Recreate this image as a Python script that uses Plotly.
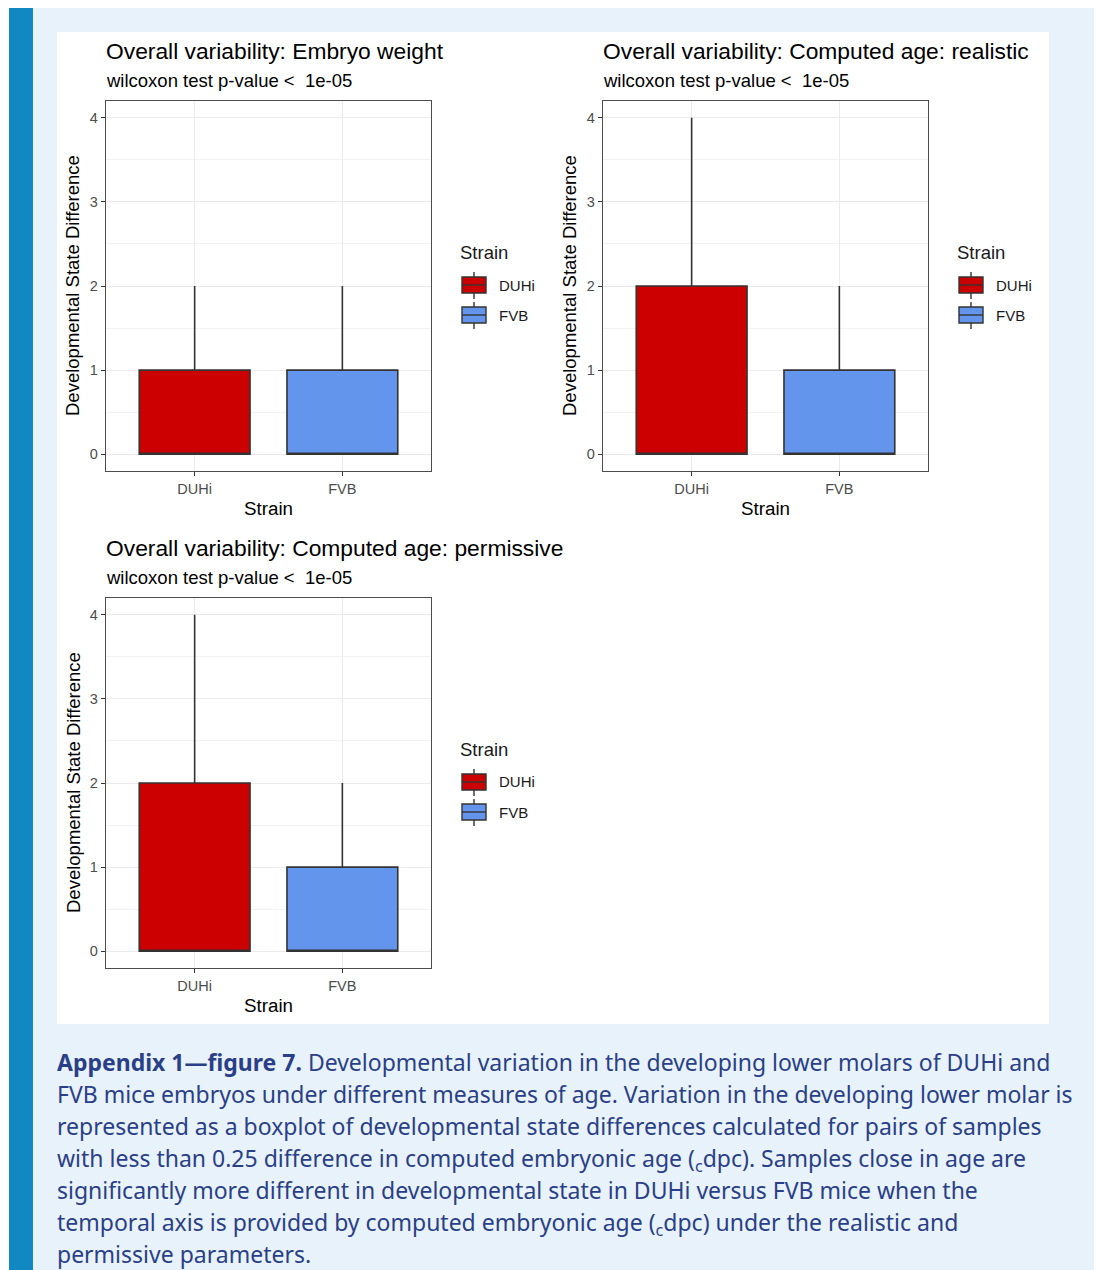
import plotly.graph_objects as go

W, H = 1097, 1270

# Summary statistics of developmental state differences per strain and age measure
strains = ["DUHi", "FVB"]
panel_titles = [
    "Overall variability: Embryo weight",
    "Overall variability: Computed age: realistic",
    "Overall variability: Computed age: permissive",
]
panel_subtitle = "wilcoxon test p-value <  1e-05"

lower_fence = {"weight": [0, 0], "realistic": [0, 0], "permissive": [0, 0]}
q1 = {"weight": [0, 0], "realistic": [0, 0], "permissive": [0, 0]}
median = {"weight": [0, 0], "realistic": [0, 0], "permissive": [0, 0]}
q3 = {"weight": [1, 1], "realistic": [2, 1], "permissive": [2, 1]}
upper_fence = {"weight": [2, 2], "realistic": [4, 2], "permissive": [4, 2]}
measures = ["weight", "realistic", "permissive"]

y_ticks = [0, 1, 2, 3, 4]
strain_colors = {"DUHi": "#CD0000", "FVB": "#6495ED"}

caption_lines = [
    "<b>Appendix 1—figure 7.</b> Developmental variation in the developing lower molars of DUHi and",
    "FVB mice embryos under different measures of age. Variation in the developing lower molar is",
    "represented as a boxplot of developmental state differences calculated for pairs of samples",
    "with less than 0.25 difference in computed embryonic age (<sub>c</sub>dpc). Samples close in age are",
    "significantly more different in developmental state in DUHi versus FVB mice when the",
    "temporal axis is provided by computed embryonic age (<sub>c</sub>dpc) under the realistic and",
    "permissive parameters.",
]

SANS = "Liberation Sans, Arial"


def px_x(x):
    return x / W


def px_y(y):
    return 1 - y / H


# plot areas in pixels: (left, top, right, bottom)
panels = [(106, 101, 431, 471), (603, 101, 928, 471), (106, 598, 431, 968)]
# legend anchor (left edge of key, centre of title)
legend_pos = [(460, 252), (957, 252), (460, 749)]

fig = go.Figure()
shapes = [
    # page background: light blue frame, blue side bar, white figure panel
    dict(type="rect", x0=px_x(9), x1=px_x(1094), y0=px_y(1270), y1=px_y(8),
         fillcolor="#e8f2fa", line=dict(width=0), layer="below"),
    dict(type="rect", x0=px_x(9), x1=px_x(33), y0=px_y(1270), y1=px_y(8),
         fillcolor="#1288c2", line=dict(width=0), layer="below"),
    dict(type="rect", x0=px_x(57), x1=px_x(1049), y0=px_y(1024), y1=px_y(32),
         fillcolor="#ffffff", line=dict(width=0), layer="below"),
]

for i, (m, (l, t, r, b)) in enumerate(zip(measures, panels)):
    n = i + 1
    xa = "x" if n == 1 else f"x{n}"
    ya = "y" if n == 1 else f"y{n}"
    for j, s in enumerate(strains):
        fig.add_trace(go.Box(
            x=[s], q1=[q1[m][j]], median=[median[m][j]], q3=[q3[m][j]],
            lowerfence=[lower_fence[m][j]], upperfence=[upper_fence[m][j]],
            name=s, fillcolor=strain_colors[s],
            line=dict(color="#333333", width=1.6),
            whiskerwidth=0, width=0.75, boxpoints=False,
            xaxis=xa, yaxis=ya, hoverinfo="skip", showlegend=False,
        ))

    axis_common = dict(
        showline=True, mirror=True, linecolor="#4d4d4d", linewidth=1.3,
        ticks="outside", ticklen=4, tickcolor="#333333", tickwidth=1,
        tickfont=dict(family=SANS, size=14.5, color="#4d4d4d"),
        gridcolor="#ebebeb", gridwidth=1.2, zeroline=False,
    )
    fig.update_layout(**{
        ("xaxis" if n == 1 else f"xaxis{n}"): dict(
            domain=[px_x(l), px_x(r)], anchor=ya, type="category",
            categoryorder="array", categoryarray=strains,
            range=[-0.6, 1.6], ticklabelstandoff=0, **axis_common),
        ("yaxis" if n == 1 else f"yaxis{n}"): dict(
            domain=[px_y(b), px_y(t)], anchor=xa, range=[-0.2, 4.2],
            tickvals=y_ticks, minor=dict(dtick=0.5, tick0=0.5, showgrid=True,
                                         gridcolor="#f3f3f3", gridwidth=1),
            **axis_common),
    })

    # legend: title, box-style keys and labels
    lx, ly = legend_pos[i]
    fig.add_annotation(text="Strain", x=px_x(lx - 2), y=px_y(ly), xref="paper", yref="paper",
                       xanchor="left", yanchor="middle", showarrow=False,
                       font=dict(family=SANS, size=18.5, color="#1a1a1a"))
    for j, s in enumerate(strains):
        cy = ly + 33 + 30 * j
        kx0, kx1 = lx + 2, lx + 26
        kxm = (kx0 + kx1) / 2
        shapes += [
            dict(type="line", x0=px_x(kxm), x1=px_x(kxm), y0=px_y(cy - 13), y1=px_y(cy + 14),
                 line=dict(color="#333333", width=1.4)),
            dict(type="rect", x0=px_x(kx0), x1=px_x(kx1), y0=px_y(cy + 8), y1=px_y(cy - 8),
                 fillcolor=strain_colors[s], line=dict(color="#333333", width=1.4)),
            dict(type="line", x0=px_x(kx0), x1=px_x(kx1), y0=px_y(cy), y1=px_y(cy),
                 line=dict(color="#333333", width=1.4)),
        ]
        fig.add_annotation(text=s, x=px_x(lx + 37), y=px_y(cy), xref="paper", yref="paper",
                           xanchor="left", yanchor="middle", showarrow=False,
                           font=dict(family=SANS, size=15, color="#1a1a1a"))

    # panel title and subtitle
    fig.add_annotation(text=panel_titles[i], x=px_x(l - 2), y=px_y(t - 50), xref="paper", yref="paper",
                       xanchor="left", yanchor="middle", showarrow=False,
                       font=dict(family=SANS, size=22.8, color="#000000"))
    fig.add_annotation(text=panel_subtitle, x=px_x(l - 2), y=px_y(t - 21), xref="paper", yref="paper",
                       xanchor="left", yanchor="middle", showarrow=False,
                       font=dict(family=SANS, size=18.5, color="#000000"))
    # axis titles
    fig.add_annotation(text="Strain", x=px_x((l + r) / 2), y=px_y(b + 37), xref="paper", yref="paper",
                       xanchor="center", yanchor="middle", showarrow=False,
                       font=dict(family=SANS, size=18.8, color="#000000"))
    fig.add_annotation(text="Developmental State Difference", x=px_x(l - 33), y=px_y((t + b) / 2),
                       xref="paper", yref="paper", xanchor="center", yanchor="middle",
                       showarrow=False, textangle=-90,
                       font=dict(family=SANS, size=18.5, color="#000000"))

# caption: one fixed-height text box per line, stacked at the caption's line pitch
LINE_PITCH = 32
for k, line in enumerate(caption_lines):
    top = 1063 + LINE_PITCH * k - 18
    fig.add_annotation(text=line, x=px_x(56), y=px_y(top), xref="paper", yref="paper",
                       xanchor="left", yanchor="top", valign="top", height=LINE_PITCH,
                       showarrow=False, align="left", borderpad=0,
                       font=dict(family="Noto Sans", size=23, color="#2a3f88"))

for s in shapes:
    s.update(xref="paper", yref="paper")

fig.update_layout(
    width=W, height=H, margin=dict(l=0, r=0, t=0, b=0),
    paper_bgcolor="#ffffff", plot_bgcolor="#ffffff",
    shapes=shapes, showlegend=False, boxmode="overlay",
)

fig.write_html("out.html")
